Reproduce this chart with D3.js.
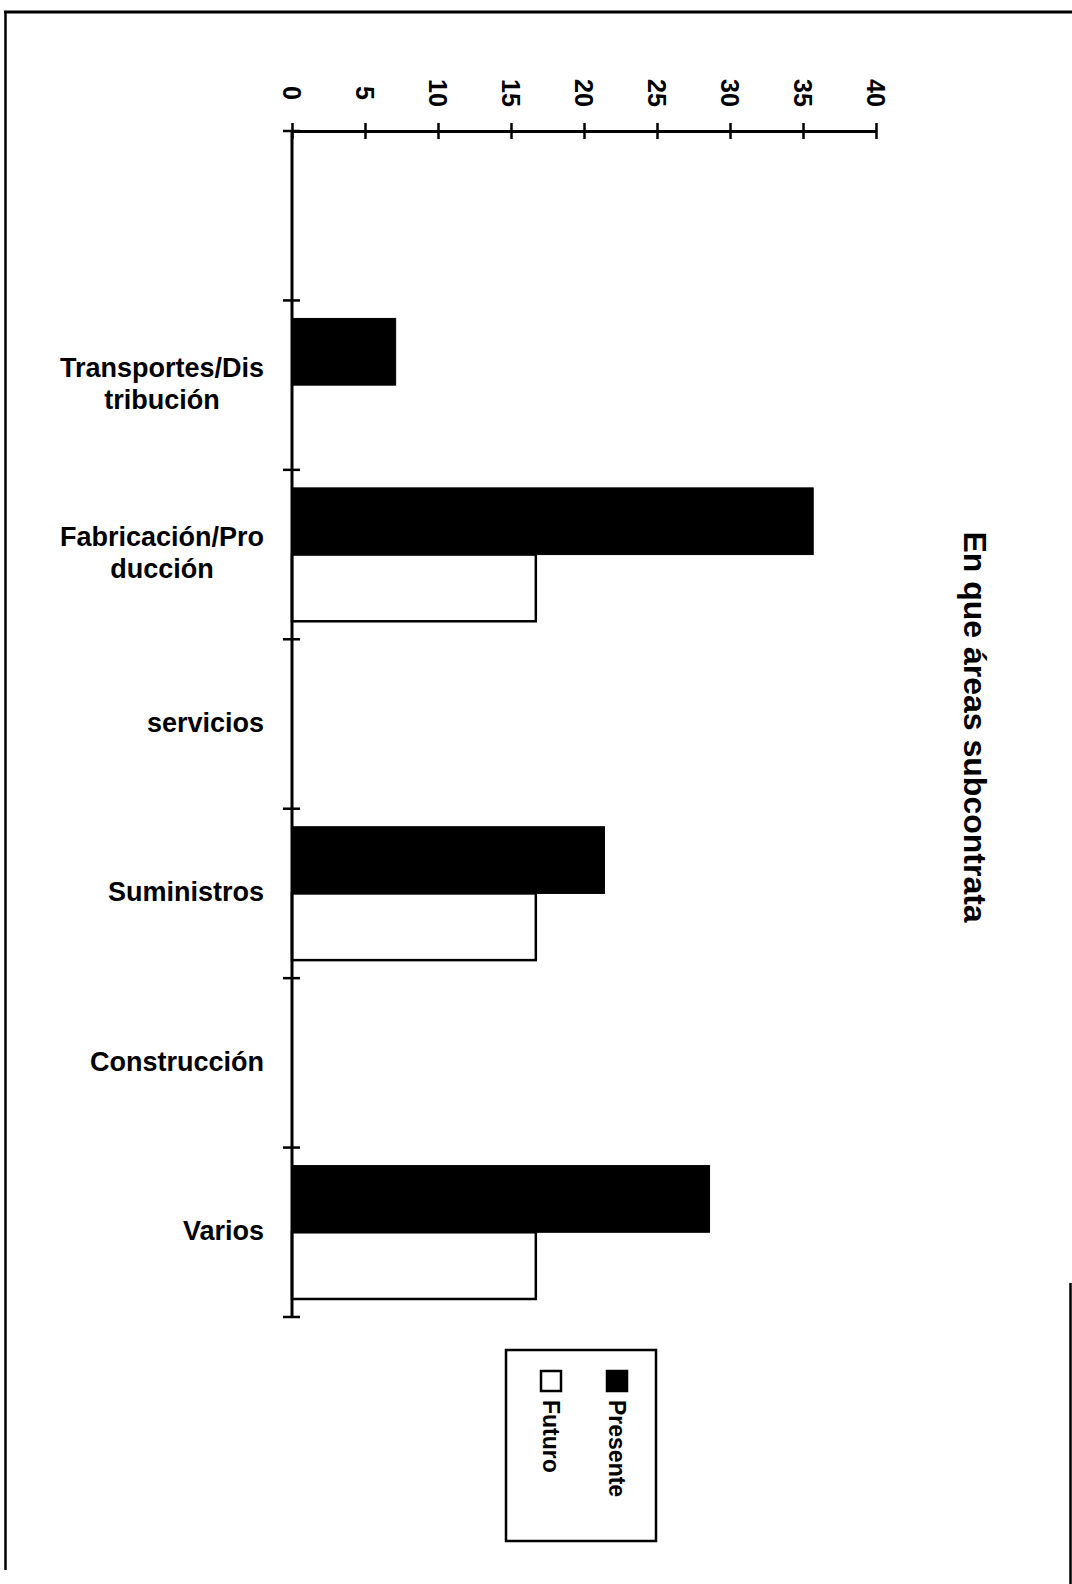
<!DOCTYPE html>
<html><head><meta charset="utf-8">
<script src="https://cdn.jsdelivr.net/npm/d3@7"></script>
<style>body{margin:0;background:#fff}svg{display:block}text{font-family:"Liberation Sans",Arial,Helvetica,sans-serif}</style>
</head><body>
<script>
// ---- data ----
const categories = ["", "Transportes/Distribución", "Fabricación/Producción", "servicios", "Suministros", "Construcción", "Varios"];
const categoryLabelLines = [[], ["Transportes/Dis", "tribución"], ["Fabricación/Pro", "ducción"], ["servicios"], ["Suministros"], ["Construcción"], ["Varios"]];
const seriesNames = ["Presente", "Futuro"];
const presente = [0, 7.1, 35.7, 0, 21.4, 0, 28.6];
const futuro = [0, 0, 16.7, 0, 16.7, 0, 16.7];
const valueTicks = [0, 5, 10, 15, 20, 25, 30, 35, 40];
const title = "En que áreas subcontrata";

const W = 1072, H = 1584;
const svg = d3.select("body").append("svg").attr("width", W).attr("height", H);

// frame
const frame = svg.append("g").attr("stroke", "#000").attr("fill", "none");
frame.append("line").attr("x1", 4).attr("x2", W).attr("y1", 12).attr("y2", 12).attr("stroke-width", 3);
frame.append("line").attr("x1", 5.5).attr("x2", 5.5).attr("y1", 11).attr("y2", 1570).attr("stroke-width", 2.5);
frame.append("line").attr("x1", 1070.5).attr("x2", 1070.5).attr("y1", 1283).attr("y2", H).attr("stroke-width", 2.5);

// scales
const x = d3.scaleLinear().domain([0, 40]).range([292, 876]);
const y = d3.scaleBand().domain(categories.map((c, i) => i)).range([131, 1317]).paddingInner(0).paddingOuter(0);
const ySub = d3.scaleBand().domain(seriesNames).range([0, y.bandwidth()]).paddingInner(0).paddingOuter(0.27);

// bars
const data = categories.map((c, i) => ({i, Presente: presente[i], Futuro: futuro[i]}));
const groups = svg.append("g").selectAll("g").data(data).join("g")
  .attr("transform", d => `translate(0,${y(d.i)})`);
groups.selectAll("rect").data(d => seriesNames.map(s => ({s, v: d[s]})).filter(e => e.v > 0)).join("rect")
  .attr("x", x(0))
  .attr("y", e => ySub(e.s))
  .attr("width", e => x(e.v) - x(0))
  .attr("height", ySub.bandwidth())
  .attr("fill", e => e.s === "Presente" ? "#000" : "#fff")
  .attr("stroke", "#000")
  .attr("stroke-width", e => e.s === "Presente" ? 1 : 2.5);

// value axis (top)
const xAxis = svg.append("g").attr("transform", "translate(0,131)")
  .call(d3.axisTop(x).tickValues(valueTicks).tickSizeOuter(0).tickSizeInner(8).tickFormat(""));
xAxis.select(".domain").attr("stroke-width", 3);
xAxis.selectAll(".tick line").attr("y1", -8).attr("y2", 8).attr("stroke-width", 2.5);
svg.append("g").selectAll("text").data(valueTicks).join("text")
  .attr("transform", d => `translate(${x(d)},93) rotate(90)`)
  .attr("text-anchor", "middle")
  .attr("dy", "0.36em")
  .attr("font-size", 25).attr("font-weight", "bold")
  .text(d => d);

// category axis
const catAxis = svg.append("g").attr("stroke", "#000");
catAxis.append("line").attr("x1", x(0)).attr("x2", x(0)).attr("y1", y.range()[0]).attr("y2", y.range()[1]).attr("stroke-width", 3);
const boundaries = categories.map((c, i) => y(i)).concat([y.range()[1]]);
catAxis.selectAll("line.tk").data(boundaries).join("line").attr("class", "tk")
  .attr("x1", x(0) - 9).attr("x2", x(0) + 8).attr("y1", d => d).attr("y2", d => d).attr("stroke-width", 2.5);

// category labels
const labelRight = 264, lineH = 32;
const lab = svg.append("g").attr("font-size", 27).attr("font-weight", "bold");
categoryLabelLines.forEach((lines, i) => {
  if (!lines.length) return;
  const cy = y(i) + y.bandwidth() / 2 - 2;
  const g = lab.append("g");
  const texts = lines.map((t, k) => g.append("text").text(t)
    .attr("y", cy + (k - (lines.length - 1) / 2) * lineH).attr("dy", "0.36em"));
  const maxW = d3.max(texts, t => t.node().getComputedTextLength());
  texts.forEach(t => t.attr("text-anchor", "middle").attr("x", labelRight - maxW / 2));
});

// title
svg.append("text").attr("transform", "translate(976,727) rotate(90)")
  .attr("text-anchor", "middle").attr("dy", "0.36em")
  .attr("font-size", 32).attr("font-weight", "bold").text(title);

// legend
const leg = svg.append("g");
leg.append("rect").attr("x", 506).attr("y", 1350).attr("width", 150).attr("height", 191)
  .attr("fill", "#fff").attr("stroke", "#000").attr("stroke-width", 2.5);
const legX = d3.scalePoint().domain(seriesNames).range([617, 551]);
seriesNames.forEach(s => {
  leg.append("rect").attr("x", legX(s) - 10).attr("y", 1371).attr("width", 20).attr("height", 20)
    .attr("fill", s === "Presente" ? "#000" : "#fff").attr("stroke", "#000").attr("stroke-width", 2.5);
  leg.append("text").attr("transform", `translate(${legX(s)},1400) rotate(90)`)
    .attr("dy", "0.36em").attr("font-size", 23).attr("font-weight", "bold").text(s);
});
</script>
</body></html>
